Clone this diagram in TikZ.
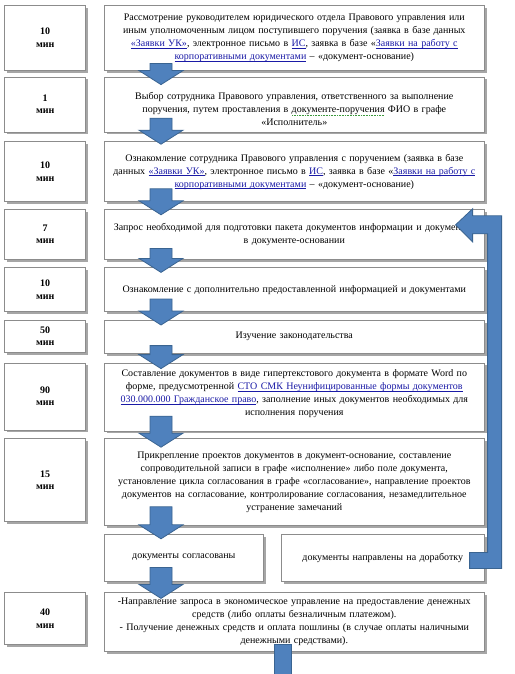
\documentclass[tikz,border=0pt]{standalone}
\usepackage{fontspec}
\setmainfont{Liberation Serif}
\usetikzlibrary{positioning,calc,shadows}
\definecolor{arrowblue}{HTML}{4F81BD}
\definecolor{arrowedge}{HTML}{3A6491}
\definecolor{linkblue}{HTML}{1A1AA6}
\definecolor{boxedge}{HTML}{8C8C8C}
\definecolor{spellgreen}{HTML}{3C9A3C}
\newsavebox{\lnkbox}
\newcommand{\lnk}[1]{\textcolor{linkblue}{\sbox{\lnkbox}{#1}%
  \rlap{\rule[-1.8pt]{\wd\lnkbox}{0.5pt}}\usebox{\lnkbox}}}
\newcommand{\spellmark}[1]{\sbox{\lnkbox}{#1}%
  \rlap{\raisebox{-2.6pt}{\textcolor{spellgreen}{\makebox[\wd\lnkbox]{%
  \xleaders\hbox to 1.6pt{\hss\rule{0.9pt}{0.6pt}\hss}\hfill}}}}\usebox{\lnkbox}}
\newcommand{\mintext}{мин}
% block arrow from the bottom of one box into the top of the next
\newcommand{\flowarrow}[4]{%
  \filldraw[blockarrow] let \p1=(#1.south west), \p2=(#3.north west) in
    (\x1+46pt,\y1+#2) -- (\x1+68pt,\y1+#2) -- (\x1+68pt,\y2-#4+14pt)
    -- (\x1+79pt,\y2-#4+14pt) -- (\x1+57pt,\y2-#4) -- (\x1+35pt,\y2-#4+14pt)
    -- (\x1+46pt,\y2-#4+14pt) -- cycle;}
\tikzset{
  stepbox/.style={draw=boxedge, fill=white, line width=0.6pt,
    minimum width=380pt, text width=376pt, align=center,
    inner xsep=2pt, inner ysep=0pt, font=\fontsize{10}{13}\selectfont,
    drop shadow={shadow xshift=2.5pt, shadow yshift=-2.5pt, fill=black, opacity=0.35}},
  timebox/.style={stepbox, minimum width=81pt, text width=75pt,
    font=\bfseries\fontsize{10}{12.5}\selectfont},
  blockarrow/.style={fill=arrowblue, draw=arrowedge, line width=0.8pt, line join=miter},
}
\begin{document}
\begin{tikzpicture}[x=1pt, y=-1pt]
\fill[white] (0,0) rectangle (514,674);
\useasboundingbox (0,0) rectangle (514,674);

% steps
\node[stepbox, minimum height=65pt, anchor=north west] (s1) at (104,5)
  {Рассмотрение руководителем юридического отдела Правового управления или\\
   иным уполномоченным лицом поступившего поручения (заявка в базе данных\\
   \lnk{«Заявки УК»}, электронное письмо в \lnk{ИС}, заявка в базе «\lnk{Заявки на работу с}\\
   \lnk{корпоративными документами} – «документ-основание)};
\node[stepbox, minimum height=55pt, below=6pt of s1] (s2)
  {\rule{0pt}{17pt}Выбор сотрудника Правового управления, ответственного за выполнение\\
   поручения, путем проставления в \spellmark{документе-поручения} ФИО в графе\\
   «Исполнитель»};
\node[stepbox, minimum height=60pt, below=9pt of s2] (s3)
  {Ознакомление сотрудника Правового управления с поручением (заявка в базе\\
   данных \lnk{«Заявки УК»}, электронное письмо в \lnk{ИС}, заявка в базе «\lnk{Заявки на работу с}\\
   \lnk{корпоративными документами} – «документ-основание)};
\node[stepbox, minimum height=50pt, below=7pt of s3] (s4)
  {Запрос необходимой для подготовки пакета документов информации и документов\\
   в документе-основании};
\node[stepbox, minimum height=44pt, below=8pt of s4] (s5)
  {Ознакомление с дополнительно предоставленной информацией и документами};
\node[stepbox, minimum height=33pt, below=8pt of s5] (s6)
  {Изучение законодательства};
\node[stepbox, minimum height=68pt, below=9pt of s6] (s7)
  {Составление документов в виде гипертекстового документа в формате Word по\\
   форме, предусмотренной \lnk{СТО СМК Неунифицированные формы документов}\\
   \lnk{030.000.000 Гражданское право}, заполнение иных документов необходимых для\\
   исполнения поручения\rule[-9pt]{0pt}{9pt}};
\node[stepbox, minimum height=87pt, below=7pt of s7] (s8)
  {Прикрепление проектов документов в документ-основание, составление\\
   сопроводительной записи в графе «исполнение» либо поле документа,\\
   установление цикла согласования в графе «согласование», направление проектов\\
   документов на согласование, контролирование согласования, незамедлительное\\
   устранение замечаний};
\node[stepbox, minimum height=47pt, minimum width=159pt, text width=155pt,
  below=8pt of s8.south west, anchor=north west] (s9a) {документы согласованы};
\node[stepbox, minimum height=47pt, minimum width=203pt, text width=199pt,
  below=8pt of s8.south east, anchor=north east] (s9b) {документы направлены на доработку};
\node[stepbox, minimum height=59pt, below=11pt of s9a.south west, anchor=north west] (s10)
  {-Направление запроса в экономическое управление на предоставление денежных\\
   средств (либо оплаты безналичным платежом).\\
   - Получение денежных средств и оплата пошлины (в случае оплаты наличными\\
   денежными средствами).};

% times
\node[timebox, minimum height=65pt, left=18pt of s1.north west, anchor=north east] (t1) {10\\ \mintext};
\node[timebox, minimum height=55pt, left=18pt of s2.north west, anchor=north east] (t2) {1\\ \mintext};
\node[timebox, minimum height=60pt, left=18pt of s3.north west, anchor=north east] (t3) {10\\ \mintext};
\node[timebox, minimum height=50pt, left=18pt of s4.north west, anchor=north east] (t4) {7\\ \mintext};
\node[timebox, minimum height=44pt, left=18pt of s5.north west, anchor=north east] (t5) {10\\ \mintext};
\node[timebox, minimum height=32pt, left=18pt of s6.north west, anchor=north east] (t6) {50\\ \mintext};
\node[timebox, minimum height=67pt, left=18pt of s7.north west, anchor=north east] (t7) {90\\ \mintext};
\node[timebox, minimum height=83pt, left=18pt of s8.north west, anchor=north east] (t8) {15\\ \mintext};
\node[timebox, minimum height=52pt, left=18pt of s10.north west, anchor=north east] (t10) {40\\ \mintext};

% arrows
\flowarrow{s1}{7pt}{s2}{8pt}
\flowarrow{s2}{14pt}{s3}{3pt}
\flowarrow{s3}{13pt}{s4}{6pt}
\flowarrow{s4}{11pt}{s5}{5pt}
\flowarrow{s5}{13pt}{s6}{5pt}
\flowarrow{s6}{8pt}{s7}{6pt}
\flowarrow{s7}{15pt}{s8}{9pt}
\flowarrow{s8}{19pt}{s9a}{5pt}
\flowarrow{s9a}{14pt}{s10}{6pt}

% back to the request step
\filldraw[blockarrow] let \p1=(s9b.south east), \p2=(s4.north east) in
  (\x2-29pt,\y2-16pt) -- (\x2-12pt,\y2) -- (\x2-12pt,\y2-7pt)
  -- (\x1+17pt,\y2-7pt) -- (\x1+17pt,\y1+13pt) -- (\x1-15pt,\y1+13pt)
  -- (\x1-15pt,\y1+29pt) -- (\x1+3pt,\y1+29pt) -- (\x1+3pt,\y2-25pt)
  -- (\x2-12pt,\y2-25pt) -- (\x2-12pt,\y2-33pt) -- cycle;

% onward
\filldraw[blockarrow] ($(s10.south)+(-20,-8)$) rectangle ($(s10.south)+(-3,30)$);
\end{tikzpicture}
\end{document}
